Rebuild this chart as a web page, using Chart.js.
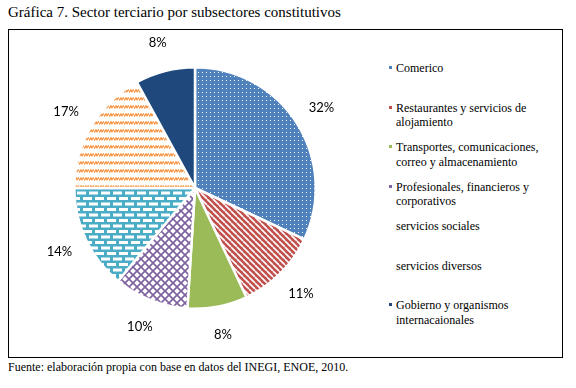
<!DOCTYPE html>
<html>
<head>
<meta charset="utf-8">
<script src="https://cdn.jsdelivr.net/npm/chart.js@4"></script>
<style>
  body { margin: 0; background: #fff; width: 576px; height: 388px; position: relative; overflow: hidden;
         font-family: "Liberation Serif", "Times New Roman", serif; color: #000; }
  #title { position: absolute; left: 8px; top: 4px; font-size: 15px; }
  #frame { position: absolute; left: 8px; top: 29px; width: 553px; height: 327px; border: 1px solid #000; }
  #source { position: absolute; left: 8px; top: 360px; font-size: 12px; }
  #pieBox { position: absolute; left: 9px; top: 31px; width: 372px; height: 314px; }
  #legend { position: absolute; left: 388px; top: 61px; width: 170px; font-size: 12px; line-height: 14.5px; }
  .item { position: relative; height: 39.5px; padding-left: 8px; }
  .mark { position: absolute; left: 1px; top: 5px; width: 3px; height: 3px; }
</style>
</head>
<body>
<div id="title">Gráfica 7. Sector terciario por subsectores constitutivos</div>
<div id="frame"></div>
<div id="pieBox"><canvas id="pieChart"></canvas></div>
<div id="legend"></div>
<div id="source">Fuente: elaboración propia con base en datos del INEGI, ENOE, 2010.</div>
<script>
  // Data
  const sectors = [
    ["Comerico"],
    ["Restaurantes y servicios de", "alojamiento"],
    ["Transportes, comunicaciones,", "correo y almacenamiento"],
    ["Profesionales, financieros y", "corporativos"],
    ["servicios sociales"],
    ["servicios diversos"],
    ["Gobierno y organismos", "internacaionales"]
  ];
  const shares = [32, 11, 8, 10, 14, 17, 8];

  const sectorColors = ["#4F81BD", "#C0504D", "#9BBB59", "#8064A2", "#4BACC6", "#F79646", "#1F497D"];
  const legendMarks = ["#4F81BD", "#C0504D", "#9BBB59", "#8064A2", "transparent", "transparent", "#1F497D"];

  function makeTile(w, h, draw) {
    const c = document.createElement("canvas");
    c.width = w; c.height = h;
    draw(c.getContext("2d"), w, h);
    return document.createElement("canvas").getContext("2d").createPattern(c, "repeat");
  }

  const dots = makeTile(4, 4, (g) => {
    g.fillStyle = "#4F81BD"; g.fillRect(0, 0, 4, 4);
    g.fillStyle = "#fff"; g.fillRect(1, 1, 1, 1);
  });
  const stripes = makeTile(6, 6, (g) => {
    g.fillStyle = "#C0504D"; g.fillRect(0, 0, 6, 6);
    g.strokeStyle = "#fff"; g.lineWidth = 1.6;
    for (const o of [-6, 0, 6]) { g.beginPath(); g.moveTo(o, 0); g.lineTo(o + 6, 6); g.stroke(); }
  });
  const lattice = makeTile(8, 8, (g) => {
    g.fillStyle = "#fff"; g.fillRect(0, 0, 8, 8);
    g.strokeStyle = "#8064A2"; g.lineWidth = 1.7;
    for (const o of [-8, 0, 8]) {
      g.beginPath(); g.moveTo(o, 0); g.lineTo(o + 8, 8); g.stroke();
      g.beginPath(); g.moveTo(o + 8, 0); g.lineTo(o, 8); g.stroke();
    }
  });
  const bricks = makeTile(12, 11, (g) => {
    g.fillStyle = "#4BACC6"; g.fillRect(0, 0, 12, 11);
    g.fillStyle = "#fff";
    g.fillRect(2, 1, 9, 3);
    g.fillRect(-4, 6.5, 9, 3); g.fillRect(8, 6.5, 9, 3);
  });
  const zigzag = makeTile(5, 8, (g) => {
    g.fillStyle = "#fff"; g.fillRect(0, 0, 5, 8);
    g.strokeStyle = "#F79646"; g.lineWidth = 1.5;
    g.beginPath(); g.moveTo(0, 5.5); g.lineTo(2, 3); g.lineTo(3, 4.5); g.lineTo(5, 2.5); g.stroke();
  });
  const fills = [dots, stripes, sectorColors[2], lattice, bricks, zigzag, sectorColors[6]];

  // legend in HTML so the long names can wrap
  const legend = document.getElementById("legend");
  sectors.forEach((lines, i) => {
    const item = document.createElement("div");
    item.className = "item";
    item.innerHTML = '<span class="mark" style="background:' + legendMarks[i] + '"></span>' + lines.join("<br>");
    legend.appendChild(item);
  });

  const percentLabels = {
    id: "percentLabels",
    afterDatasetsDraw(chart) {
      const ctx = chart.ctx;
      ctx.save();
      ctx.font = '13px Lato, "Open Sans", sans-serif';
      ctx.fillStyle = "#000";
      ctx.textAlign = "center";
      ctx.textBaseline = "middle";
      chart.getDatasetMeta(0).data.forEach((arc, i) => {
        const p = arc.getProps(["x", "y", "startAngle", "endAngle", "outerRadius"], true);
        const mid = (p.startAngle + p.endAngle) / 2;
        const r = p.outerRadius + 29;
        ctx.fillText(shares[i] + "%", p.x + Math.cos(mid) * r, p.y + Math.sin(mid) * r);
      });
      ctx.restore();
    }
  };

  new Chart(document.getElementById("pieChart").getContext("2d"), {
    type: "pie",
    data: {
      labels: sectors.map((l) => l.join(" ")),
      datasets: [{
        data: shares,
        backgroundColor: fills,
        borderColor: "#fff",
        borderWidth: 2.5
      }]
    },
    options: {
      responsive: true,
      maintainAspectRatio: false,
      animation: false,
      layout: { padding: { top: 35, bottom: 35, left: 60, right: 60 } },
      plugins: {
        legend: { display: false },
        tooltip: { enabled: false }
      }
    },
    plugins: [percentLabels]
  });
</script>
</body>
</html>
